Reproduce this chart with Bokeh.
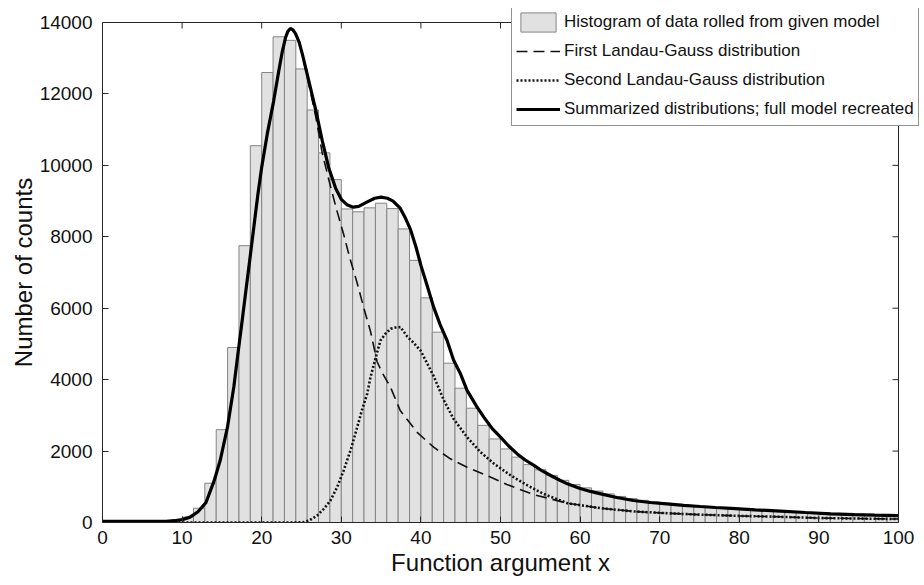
import numpy as np
from bokeh.plotting import figure
from bokeh.models import Range1d, Legend, LegendItem, FixedTicker, ColumnDataSource, Title
from bokeh.embed import file_html
from bokeh.resources import INLINE

# ---------------- data ----------------
bin_width = 10.0 / 7.0
first_bin_index = 7   # histogram starts at x = 10
hist_counts = [150, 400, 1100, 2600, 4900, 7750, 10550, 12600, 13600, 13500,
               12700, 11550, 10350, 9600, 8780, 8700, 8810, 8940, 8790, 8220,
               7340, 6290, 5330, 4460, 3760, 3200, 2720, 2340, 2060, 1830,
               1620, 1475, 1320, 1180, 1065, 970, 880, 800, 730, 670,
               620, 575, 540, 510, 480, 455, 430, 410, 390, 370,
               350, 335, 320, 305, 290, 278, 265, 255, 245, 235,
               226, 218, 210]

sum_x = [0, 5, 8, 9, 10, 11, 12, 13, 14, 14.8, 15.7, 16.5, 17.0, 17.5, 18.0, 18.5,
         19.0, 19.5, 20.0, 20.7, 21.5, 22.15, 22.6, 23.0, 23.3, 23.6, 23.9, 24.25,
         24.7, 25.1, 25.9, 26.8,
         27.6, 28.4, 29.3, 30.0, 30.7, 31.5, 32.2, 33.2, 34.2, 35.0, 35.8, 36.5,
         37.4, 38.0, 38.7, 39.4, 40.0, 40.8, 41.6, 42.4, 43.3, 44.1, 45.0, 45.8,
         47.0, 47.9, 49.0, 50.0, 51.0, 52.1, 53.1, 54.2, 55.2, 56.3, 57.4, 58.4,
         60.0, 61.3, 62.6, 64.6, 66.7, 68.8, 70.9, 73.0, 75.1, 77.0, 79.0, 82.0,
         85.2, 88.3, 91.5, 94.5, 97.0, 100]
sum_y = [30, 30, 35, 50, 80, 150, 300, 560, 1150, 1750, 2670, 3800, 4700, 5570, 6470, 7350,
         8250, 9150, 9950, 10880, 11800, 12650, 13200, 13580, 13760, 13830, 13800, 13690,
         13450, 13120, 12380, 11540,
         10700, 9950, 9350, 9050, 8900, 8830, 8850, 8970, 9080, 9110, 9080, 9000,
         8800, 8550, 8200, 7700, 7200, 6620, 6030, 5550, 5090, 4550, 4150, 3700,
         3250, 2950, 2620, 2390, 2150, 1920, 1750, 1600, 1450, 1316, 1190, 1083,
         950, 870, 803, 700, 616, 560, 520, 480, 448, 420, 395, 355,
         317, 280, 243, 222, 207, 192]

first_x = [0, 5, 8, 9, 10, 11, 12, 13, 14, 14.8, 15.7, 16.5, 17.0, 17.5, 18.0, 18.5,
           19.0, 19.5, 20.0, 20.7, 21.5, 22.15, 22.6, 23.0, 23.3, 23.6, 23.9, 24.25,
           24.7, 25.1, 25.9, 26.8,
           27.6, 28.56, 29.4, 30.3, 31.1, 32.0, 32.8, 33.67, 34.5, 35.13, 36.18,
           37.4, 38.7, 39.5, 41.6, 43.7, 45.8, 48.3, 50.8, 54.2, 58.4, 62.6, 66.7,
           70.9, 75.0, 80.0, 85.0, 90.0, 95.0, 100]
first_y = [30, 30, 35, 50, 80, 150, 300, 560, 1150, 1750, 2670, 3800, 4700, 5570, 6470, 7350,
           8250, 9150, 9950, 10880, 11800, 12650, 13200, 13580, 13760, 13830, 13800, 13690,
           13440, 13100, 12300, 11350,
           10350, 9483, 8770, 8064, 7380, 6701, 6030, 5348, 4500, 4200, 3789,
           3136, 2763, 2529, 2109, 1783, 1549, 1316, 1064, 780, 540, 400, 310,
           260, 220, 185, 160, 125, 110, 96]

second_x = [0, 10, 20, 24, 25.3, 26.0, 26.97, 27.8, 28.64, 29.5, 30.3, 31.2, 32.0, 32.6,
            33.25, 33.67, 34.3, 34.92, 35.6, 36.2, 36.8, 37.44, 38.3, 39.0, 39.95, 40.8,
            41.6, 42.9, 44.1, 45.8, 47.5, 49.2, 51.3, 53.4, 55.4, 58.4, 62.6, 66.7,
            70.9, 75.1, 80, 85, 90, 95, 100]
second_y = [0, 0, 0, 0, 10, 60, 196, 380, 616, 1000, 1456, 2050, 2670, 3150,
            3603, 4070, 4600, 5096, 5300, 5423, 5460, 5470, 5200, 5050, 4816, 4450,
            4100, 3416, 2903, 2389, 1969, 1643, 1316, 1036, 803, 540, 400, 310,
            260, 220, 185, 160, 125, 110, 96]

x_ticks = [0, 10, 20, 30, 40, 50, 60, 70, 80, 90, 100]
y_ticks = [0, 2000, 4000, 6000, 8000, 10000, 12000, 14000]
x_min, x_max = 0, 100
y_min, y_max = 0, 14000

x_title = "Function argument x"
y_title = "Number of counts"
legend_labels = ["Histogram of data rolled from given model",
                 "First Landau-Gauss distribution",
                 "Second Landau-Gauss distribution",
                 "Summarized distributions; full model recreated"]

# ---------------- layout (pixels) ----------------
# The axes box is 796 x 500 px; the drawing frame is a little larger (to the right and
# above) so that the legend may stick out of the axes box, as in the original.
BOX_W, BOX_H = 796, 500
EXTRA_R, EXTRA_T = 22, 14
LEFT, TOP, BOTTOM = 102, 8, 62
FONT = "Liberation Sans"
TITLE_SIZE = 24
AX = "#262626"
TXT = "#111111"

# approximate advance widths (em) of the axis titles in an Arial-metric font,
# used to centre them on the axes box rather than on the larger frame
X_TITLE_EM, Y_TITLE_EM = 9.115, 7.892

x_end = x_min + (x_max - x_min) * (BOX_W + EXTRA_R) / BOX_W
y_end = y_min + (y_max - y_min) * (BOX_H + EXTRA_T) / BOX_H

p = figure(width=LEFT + BOX_W + EXTRA_R, height=TOP + EXTRA_T + BOX_H + BOTTOM,
           x_range=Range1d(x_min, x_end), y_range=Range1d(y_min, y_end),
           output_backend="svg", toolbar_location=None,
           min_border_left=LEFT, min_border_right=0, min_border_top=TOP,
           min_border_bottom=BOTTOM)
p.grid.visible = False
p.outline_line_color = None
p.background_fill_color = "white"
p.border_fill_color = "white"

edges = (np.arange(len(hist_counts)) + first_bin_index) * bin_width
src = ColumnDataSource(dict(left=edges, right=edges + bin_width, top=hist_counts))
r_hist = p.quad(left="left", right="right", bottom=0, top="top", source=src,
                fill_color="#e1e1e1", line_color="#858585", line_width=1)
r_first = p.line(first_x, first_y, line_color="#111111", line_width=1.6, line_dash="11 6")
r_second = p.line(second_x, second_y, line_color="#111111", line_width=2.6, line_dash="2 2")
r_sum = p.line(sum_x, sum_y, line_color="#000000", line_width=3.2)

# top and right edges of the axes box, with inward ticks (MATLAB "box on")
p.line([x_min, x_max], [y_max, y_max], line_color=AX, line_width=1)
p.line([x_max, x_max], [y_min, y_max], line_color=AX, line_width=1)
p.ray(x=x_ticks, y=[y_max] * len(x_ticks), length=6, length_units="screen",
      angle=-np.pi / 2, line_color=AX, line_width=1)
p.ray(x=[x_max] * len(y_ticks), y=y_ticks, length=6, length_units="screen",
      angle=np.pi, line_color=AX, line_width=1)

for ax in (p.xaxis[0], p.yaxis[0]):
    ax.major_tick_in = 6
    ax.major_tick_out = 0
    ax.minor_tick_line_color = None
    ax.axis_line_color = AX
    ax.major_tick_line_color = AX
    ax.major_label_text_font = FONT
    ax.major_label_text_font_size = "19px"
    ax.major_label_text_color = TXT

p.xaxis[0].ticker = FixedTicker(ticks=x_ticks)
p.yaxis[0].ticker = FixedTicker(ticks=y_ticks)
p.xaxis[0].bounds = (x_min, x_max)
p.yaxis[0].bounds = (y_min, y_max)
p.xaxis[0].major_label_standoff = 8
p.yaxis[0].major_label_standoff = 10

# axis titles centred on the axes box (not on the slightly larger frame)
x_off = BOX_W / 2 - X_TITLE_EM * TITLE_SIZE / 2
y_off = BOX_H / 2 - Y_TITLE_EM * TITLE_SIZE / 2
p.add_layout(Title(text=x_title, align="left", offset=x_off, standoff=0,
                   text_font=FONT, text_font_size=f"{TITLE_SIZE}px", text_font_style="normal",
                   text_color=TXT), "below")
p.add_layout(Title(text=y_title, align="left", offset=y_off, standoff=0,
                   text_font=FONT, text_font_size=f"{TITLE_SIZE}px", text_font_style="normal",
                   text_color=TXT), "left")

legend = Legend(items=[LegendItem(label=legend_labels[0], renderers=[r_hist]),
                       LegendItem(label=legend_labels[1], renderers=[r_first]),
                       LegendItem(label=legend_labels[2], renderers=[r_second]),
                       LegendItem(label=legend_labels[3], renderers=[r_sum])],
                location=(409, BOX_H - 104), orientation="vertical",
                label_text_font=FONT, label_text_font_size="17px", label_text_color=TXT,
                glyph_width=44, glyph_height=24, label_height=24, label_standoff=4,
                spacing=5, padding=4, margin=0,
                border_line_color=AX, border_line_width=1,
                background_fill_color="white", background_fill_alpha=1.0)
p.add_layout(legend, "center")

open("out.html", "w").write(file_html(p, INLINE))
